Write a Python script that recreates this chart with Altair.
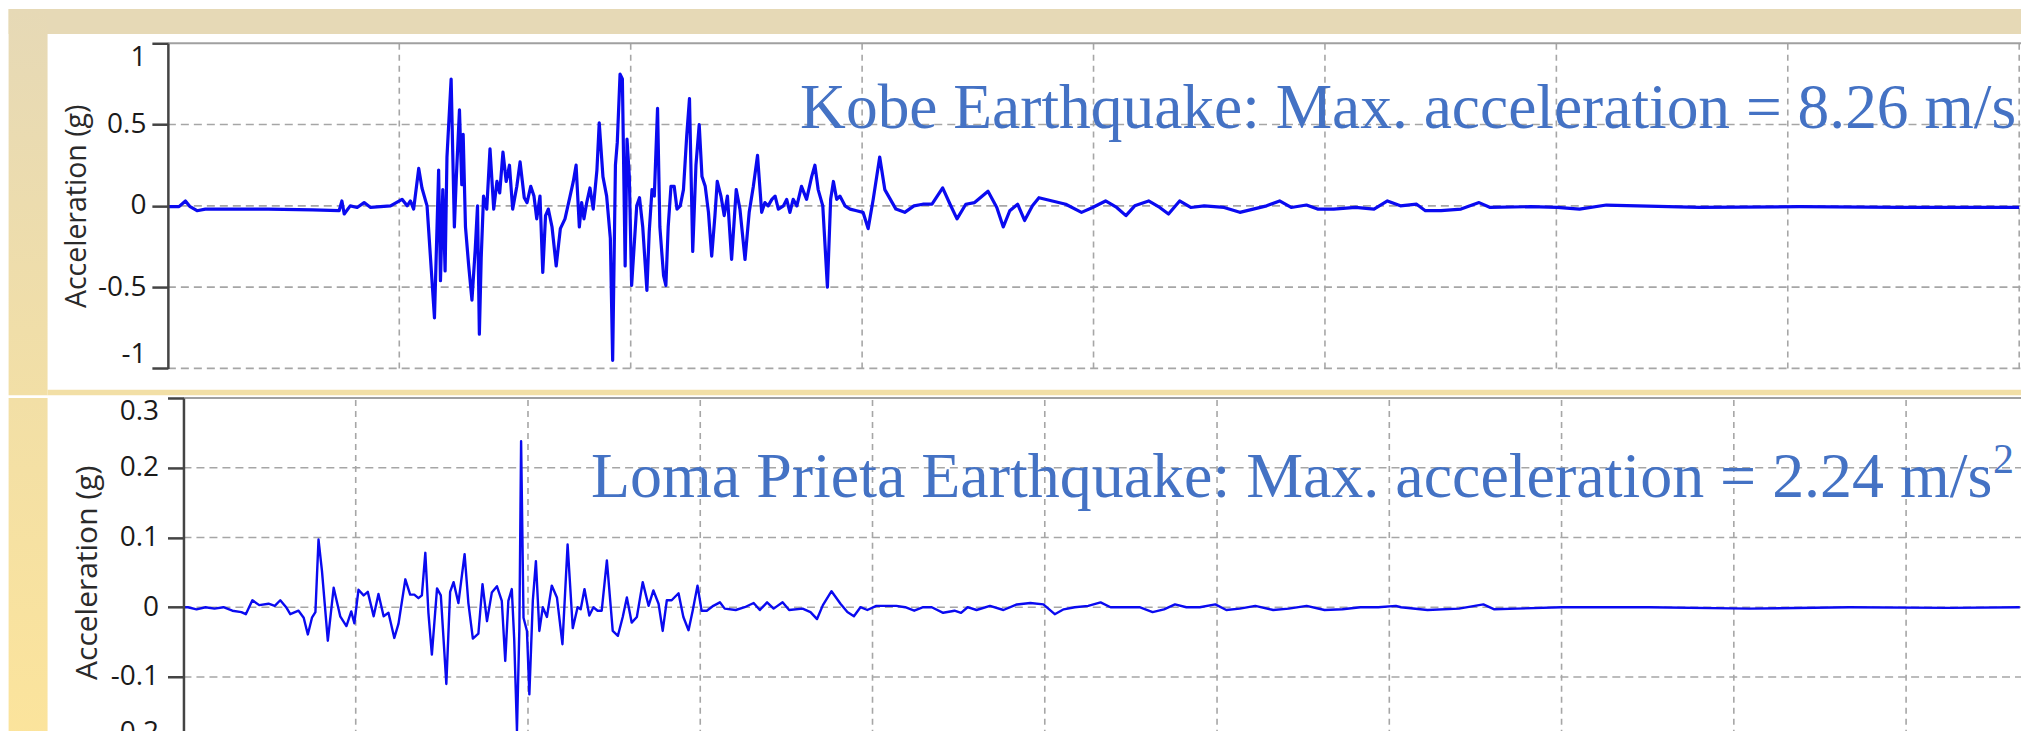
import altair as alt
import pandas as pd

# ---------------- data ----------------
# Kobe record: (time s, acceleration g)
KOBE = [(0.00,-0.005),(0.24,-0.005),(0.38,0.03),(0.48,-0.005),(0.63,-0.03),(0.81,-0.02),(1.20,-0.02),(2.17,-0.02),
 (3.13,-0.025),(3.70,-0.03),(3.76,0.03),(3.81,-0.05),(3.94,0.0),(4.09,-0.01),(4.24,0.02),(4.38,-0.01),(4.81,0.0),
 (5.06,0.04),(5.17,0.0),(5.24,0.03),(5.31,-0.02),(5.42,0.23),(5.49,0.11),(5.60,0.0),(5.76,-0.69),(5.85,0.22),
 (5.89,-0.46),(5.94,0.10),(5.99,-0.40),(6.03,0.30),(6.12,0.78),(6.19,-0.13),(6.23,0.16),(6.30,0.59),(6.35,0.13),
 (6.38,0.44),(6.43,-0.13),(6.50,-0.37),(6.57,-0.58),(6.64,-0.27),(6.69,0.0),(6.73,-0.79),(6.77,-0.32),(6.82,0.06),
 (6.89,-0.02),(6.96,0.35),(7.04,-0.02),(7.11,0.15),(7.17,0.08),(7.24,0.33),(7.31,0.15),(7.38,0.25),(7.45,-0.02),
 (7.54,0.12),(7.61,0.27),(7.70,0.05),(7.76,0.02),(7.84,0.12),(7.91,0.06),(7.97,-0.08),(8.04,0.06),(8.10,-0.41),
 (8.16,-0.06),(8.22,-0.02),(8.30,-0.13),(8.39,-0.37),(8.48,-0.14),(8.58,-0.08),(8.69,0.06),(8.76,0.15),(8.82,0.25),
 (8.89,-0.13),(8.94,0.02),(8.99,-0.08),(9.05,0.02),(9.12,0.11),(9.19,-0.02),(9.27,0.22),(9.32,0.51),(9.40,0.18),
 (9.48,0.06),(9.56,-0.20),(9.61,-0.95),(9.67,0.25),(9.71,0.39),(9.77,0.81),(9.82,0.78),(9.88,-0.37),(9.92,0.41),
 (9.97,0.18),(10.02,-0.49),(10.13,0.0),(10.19,0.05),(10.26,-0.13),(10.35,-0.52),(10.40,-0.16),(10.46,0.10),
 (10.51,0.06),(10.58,0.60),(10.63,-0.13),(10.71,-0.43),(10.76,-0.49),(10.81,-0.13),(10.87,0.12),(10.94,0.12),
 (11.00,-0.02),(11.07,0.0),(11.14,0.10),(11.21,0.43),(11.27,0.66),(11.34,-0.28),(11.41,0.25),(11.48,0.50),
 (11.54,0.18),(11.61,0.12),(11.68,-0.04),(11.75,-0.31),(11.82,-0.06),(11.87,0.15),(11.95,0.06),(12.02,-0.06),
 (12.09,0.06),(12.18,-0.33),(12.28,0.10),(12.36,-0.02),(12.47,-0.33),(12.56,-0.04),(12.65,0.12),(12.74,0.31),
 (12.83,-0.04),(12.90,0.02),(12.97,0.0),(13.05,0.04),(13.12,0.06),(13.19,-0.02),(13.30,0.0),(13.37,0.04),
 (13.44,-0.04),(13.51,0.04),(13.59,0.0),(13.69,0.12),(13.80,0.04),(13.91,0.18),(13.98,0.25),(14.05,0.10),
 (14.15,0.0),(14.25,-0.50),(14.32,0.04),(14.38,0.15),(14.45,0.04),(14.52,0.06),(14.63,0.0),(14.74,-0.02),
 (14.88,-0.03),(15.02,-0.04),(15.13,-0.14),(15.24,0.04),(15.38,0.30),(15.49,0.10),(15.73,-0.02),(15.92,-0.04),
 (16.12,0.0),(16.31,0.01),(16.51,0.01),(16.74,0.11),(16.90,0.01),(17.05,-0.08),(17.24,0.01),(17.43,0.02),
 (17.72,0.09),(17.91,-0.01),(18.05,-0.13),(18.19,-0.03),(18.36,0.01),(18.51,-0.09),(18.68,0.0),(18.82,0.05),
 (19.11,0.03),(19.40,0.01),(19.74,-0.04),(19.98,-0.01),(20.26,0.03),(20.50,-0.01),(20.70,-0.06),(20.89,0.0),
 (21.19,0.03),(21.43,-0.01),(21.62,-0.05),(21.86,0.03),(22.10,-0.01),(22.39,0.0),(22.82,-0.01),(23.16,-0.04),
 (23.45,-0.02),(23.74,0.0),(24.02,0.03),(24.27,-0.01),(24.60,0.005),(24.84,-0.02),(25.19,-0.02),(25.66,-0.01),
 (26.06,-0.02),(26.35,0.03),(26.63,0.0),(26.98,0.01),(27.17,-0.03),(27.51,-0.03),(27.94,-0.02),(28.33,0.02),
 (28.57,-0.01),(29.44,-0.005),(30.02,-0.01),(30.50,-0.02),(31.08,0.005),(33.09,-0.01),(35.25,-0.005),
 (37.40,-0.01),(39.56,-0.01),(40.0,-0.01)]

# Loma Prieta record: (time s, acceleration g)
LOMA = [(0.0,0.0),(0.13,0.0),(0.38,-0.003),(0.64,0.0),(0.90,-0.002),(1.16,0.0),(1.42,-0.005),(1.68,-0.007),
 (1.81,-0.01),(2.00,0.01),(2.20,0.003),(2.47,0.005),(2.65,0.002),(2.81,0.01),(2.98,0.0),(3.10,-0.01),
 (3.34,-0.005),(3.49,-0.015),(3.61,-0.039),(3.73,-0.015),(3.83,-0.007),(3.92,0.097),(4.02,0.052),(4.19,-0.048),
 (4.36,0.028),(4.55,-0.013),(4.73,-0.027),(4.87,-0.006),(4.96,-0.023),(5.08,0.025),(5.23,0.017),(5.35,0.022),
 (5.52,-0.013),(5.66,0.019),(5.81,-0.013),(5.95,-0.008),(6.12,-0.044),(6.24,-0.024),(6.44,0.04),(6.58,0.018),
 (6.70,0.018),(6.82,0.013),(6.92,0.017),(7.02,0.078),(7.11,-0.008),(7.21,-0.068),(7.36,0.027),(7.47,0.017),
 (7.63,-0.11),(7.74,0.022),(7.84,0.036),(7.98,0.006),(8.16,0.076),(8.27,0.006),(8.40,-0.045),(8.56,-0.038),
 (8.68,0.033),(8.81,-0.02),(8.95,0.021),(9.10,0.03),(9.24,0.009),(9.34,-0.077),(9.43,0.009),(9.53,0.026),
 (9.60,-0.046),(9.68,-0.177),(9.75,-0.03),(9.80,0.238),(9.87,-0.015),(9.97,-0.034),(10.04,-0.125),(10.14,0.009),
 (10.23,0.066),(10.33,-0.034),(10.43,0.0),(10.55,-0.014),(10.69,0.031),(10.84,0.014),(11.00,-0.053),(11.15,0.09),
 (11.30,-0.03),(11.44,0.0),(11.53,-0.003),(11.64,0.026),(11.78,-0.012),(11.90,0.0),(12.02,-0.005),(12.14,-0.005),
 (12.29,0.067),(12.46,-0.034),(12.61,-0.041),(12.75,-0.014),(12.87,0.014),(13.01,-0.022),(13.16,-0.014),
 (13.33,0.036),(13.50,0.002),(13.64,0.024),(13.79,0.005),(13.91,-0.034),(14.03,0.01),(14.17,0.01),(14.37,0.02),
 (14.51,-0.014),(14.66,-0.033),(14.78,-0.005),(14.92,0.031),(15.04,-0.005),(15.19,-0.005),(15.38,0.002),
 (15.57,0.007),(15.71,-0.002),(16.03,-0.004),(16.29,0.0),(16.55,0.006),(16.73,-0.004),(16.94,0.007),
 (17.13,-0.002),(17.39,0.007),(17.58,-0.004),(17.97,-0.002),(18.20,-0.007),(18.39,-0.017),(18.56,0.003),
 (18.81,0.023),(19.07,0.005),(19.27,-0.007),(19.46,-0.013),(19.65,0.0),(19.85,-0.004),(20.11,0.002),
 (20.37,0.002),(20.69,0.002),(20.95,0.0),(21.21,-0.005),(21.47,0.0),(21.72,0.0),(22.05,-0.008),(22.38,-0.005),
 (22.57,-0.008),(22.76,0.0),(23.02,-0.004),(23.41,0.002),(23.80,-0.004),(24.19,0.004),(24.58,0.006),
 (24.96,0.004),(25.29,-0.01),(25.55,-0.003),(25.87,0.0),(26.26,0.002),(26.62,0.007),(26.91,0.0),(27.29,0.0),
 (27.75,0.0),(28.13,-0.007),(28.46,-0.003),(28.78,0.004),(29.11,0.0),(29.50,0.0),(29.95,0.004),(30.27,-0.004),
 (30.66,-0.002),(31.11,0.002),(31.63,-0.004),(32.08,-0.002),(32.60,0.002),(33.12,-0.004),(33.64,-0.003),
 (34.16,0.0),(34.68,0.0),(35.19,0.002),(35.34,0.0),(36.11,-0.004),(37.02,-0.002),(37.73,0.004),(38.05,-0.003),
 (38.70,-0.002),(39.99,0.0),(42.55,0.0),(45.45,-0.002),(48.35,0.0),(51.25,-0.001),(53.3,0.0)]

KOBE_YTICKS = [-1, -0.5, 0, 0.5, 1]
LOMA_YTICKS = [-0.2, -0.1, 0, 0.1, 0.2, 0.3]
KOBE_GRID_T = [5, 10, 15, 20, 25, 30, 35, 40]
LOMA_GRID_T = [5, 10, 15, 20, 25, 30, 35, 40, 45, 50]

Y_TITLE = "Acceleration (g)"
KOBE_TEXT = "Kobe Earthquake: Max. acceleration = 8.26 m/s"
LOMA_TEXT = "Loma Prieta Earthquake: Max. acceleration = 2.24 m/s"
SUPER = "2"

# ---------------- styling / layout ----------------
LEFT = 159.4          # chart edge -> plot left
W = 2014 - LEFT       # whole chart is exactly the page's content width
H1 = 325.4
H2 = 349
WHITE_LEFT = 120.4    # white panel edge -> plot left
LINE_BLUE = "#0A0AF0"
TEXT_BLUE = "#4472C4"
GRID = "#A6A6A6"
AXIS_DARK = "#444444"
BAND = "#E6D9B6"
SEP = "#F2DFA6"

one = pd.DataFrame({"k": [0]})


def rect(x, x2, y, y2, fill):
    return alt.Chart(one).mark_rect(fill=fill).encode(
        x=alt.value(x), x2=alt.value(x2), y=alt.value(y), y2=alt.value(y2))


def grad(c0, c1):
    return alt.Gradient(gradient="linear", x1=0, x2=0, y1=0, y2=1,
                        stops=[alt.GradientStop(color=c0, offset=0),
                               alt.GradientStop(color=c1, offset=1)])


def panel(samples, xdom, ydom, yticks, grid_t, height, texts, axis_kw,
          line_width, decor):
    x_end = xdom[1]
    xs = alt.Scale(domain=xdom, nice=False, zero=False)
    ys = alt.Scale(domain=ydom, nice=False, zero=False)
    df = pd.DataFrame(samples, columns=["t", "a"])

    axis = alt.Axis(values=yticks, title=Y_TITLE, grid=False, labelFlush=True,
                    labelExpr="datum.value < 0 ? '-' + format(-datum.value, '') : format(datum.value, '')",
                    labelFont="Open Sans", labelFontSize=28, labelColor="#1A1A1A",
                    tickSize=16, tickWidth=2.5, tickColor=AXIS_DARK,
                    domainColor=AXIS_DARK, domainWidth=2.5,
                    titleFont="Open Sans", titleFontWeight="normal", titleColor="#2A2A2A",
                    titleAngle=270, titleAlign="center", titleBaseline="alphabetic",
                    titleY=height / 2, zindex=1, **axis_kw)

    def X(f):
        return alt.X(f, scale=xs, axis=None)

    def Y(f):
        return alt.Y(f, scale=ys, axis=axis)

    hgrid = pd.DataFrame({"v": [v for v in yticks if v != ydom[1]],
                          "x0": 0.0, "x1": x_end})
    vgrid = pd.DataFrame({"t": grid_t, "y0": ydom[0], "y1": ydom[1]})
    frame = pd.DataFrame({"v": [ydom[1]], "x0": [0.0], "x1": [x_end]})

    layers = list(decor)
    layers.append(alt.Chart(hgrid).mark_rule(color=GRID, strokeWidth=1.6, strokeDash=[8, 5]).encode(
        x=X("x0:Q"), x2="x1:Q", y=Y("v:Q")))
    layers.append(alt.Chart(vgrid).mark_rule(color=GRID, strokeWidth=1.6, strokeDash=[6, 5]).encode(
        x=X("t:Q"), y=Y("y0:Q"), y2="y1:Q"))
    layers.append(alt.Chart(frame).mark_rule(color="#A0A0A0", strokeWidth=2).encode(
        x=X("x0:Q"), x2="x1:Q", y=Y("v:Q")))
    layers.append(alt.Chart(df).mark_line(color=LINE_BLUE, strokeWidth=line_width,
                                          strokeJoin="round").encode(
        x=X("t:Q"), y=Y("a:Q")))

    for (t, v, s, size) in texts:
        tdf = pd.DataFrame({"t": [t], "v": [v], "s": [s]})
        layers.append(alt.Chart(tdf).mark_text(
            align="left", baseline="alphabetic", font="Liberation Serif",
            fontSize=size, color=TEXT_BLUE).encode(
            x=X("t:Q"), y=Y("v:Q"), text="s:N"))

    return alt.layer(*layers).properties(width=W, height=height)


top_decor = [
    rect(-LEFT, W, -34.3, -9.3, BAND),
    rect(-LEFT, -WHITE_LEFT, -34.3, H1 + 26.8, grad(BAND, SEP)),
    rect(-WHITE_LEFT, W, H1 + 21.3, H1 + 26.8, SEP),
]
bottom_decor = [
    rect(-LEFT, -WHITE_LEFT, 0, H2 + 12, grad(SEP, "#FCE49B")),
]

top = panel(KOBE, [0, W / 46.32], [-1, 1], KOBE_YTICKS, KOBE_GRID_T, H1,
            [(13.66, 0.481, KOBE_TEXT, 63.5)],
            dict(labelPadding=6, titleFontSize=28.5, titleX=-82.4),
            3.2, top_decor)

bottom = panel(LOMA, [-15.6 / 34.48, (W - 15.6) / 34.48], [-0.2, 0.3], LOMA_YTICKS, LOMA_GRID_T, H2,
               [(11.83, 0.158, LOMA_TEXT, 64), (52.52, 0.193, SUPER, 42)],
               dict(labelPadding=9, titleFontSize=30, titleX=-87, offset=-15.6),
               2.4, bottom_decor)

chart = alt.vconcat(top, bottom, spacing=0).properties(
    padding=0, background="#FFFFFF"
).configure_view(stroke=None)

chart.save("out.html", embed_options={"renderer": "svg", "actions": False})
